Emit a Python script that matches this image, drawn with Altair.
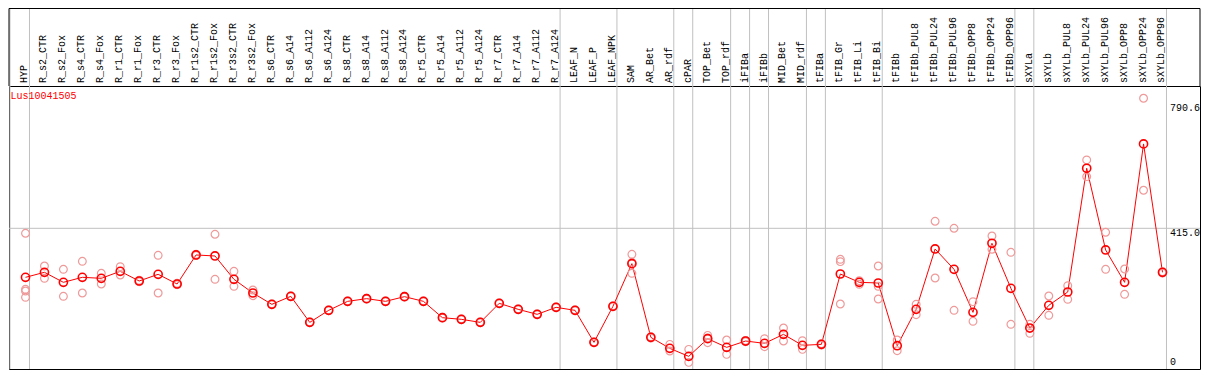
import altair as alt
import pandas as pd

gene = "Lus10041505"

categories = [
    "HYP", "R_s2_CTR", "R_s2_Fox", "R_s4_CTR", "R_s4_Fox", "R_r1_CTR", "R_r1_Fox",
    "R_r3_CTR", "R_r3_Fox", "R_r1s2_CTR", "R_r1s2_Fox", "R_r3s2_CTR", "R_r3s2_Fox",
    "R_s6_CTR", "R_s6_A14", "R_s6_A112", "R_s6_A124", "R_s8_CTR", "R_s8_A14",
    "R_s8_A112", "R_s8_A124", "R_r5_CTR", "R_r5_A14", "R_r5_A112", "R_r5_A124",
    "R_r7_CTR", "R_r7_A14", "R_r7_A112", "R_r7_A124", "LEAF_N", "LEAF_P", "LEAF_NPK",
    "SAM", "AR_Bet", "AR_rdf", "cPAR", "TOP_Bet", "TOP_rdf", "iFIBa", "iFIBb",
    "MID_Bet", "MID_rdf", "tFIBa", "tFIB_Gr", "tFIB_Li", "tFIB_Bi", "tFIBb",
    "tFIBb_PUL8", "tFIBb_PUL24", "tFIBb_PUL96", "tFIBb_OPP8", "tFIBb_OPP24",
    "tFIBb_OPP96", "sXYLa", "sXYLb", "sXYLb_PUL8", "sXYLb_PUL24", "sXYLb_PUL96",
    "sXYLb_OPP8", "sXYLb_OPP24", "sXYLb_OPP96",
]

means = [
    268, 283, 253, 268, 265, 286, 257, 277, 248, 335, 332, 262, 221,
    187, 211, 133, 169, 196, 204, 196, 210, 196, 147, 142, 133,
    190, 172, 157, 178, 169, 73, 181,
    309, 88, 55, 31, 84, 58, 77, 70, 97, 64, 67,
    278, 253, 251, 63, 172, 353, 292, 163, 370, 235,
    116, 184, 224, 595, 350, 253, 668, 283,
]

replicates = [
    [400, 232, 227, 208], [302, 265], [292, 211], [316, 221], [280, 248],
    [300, 275], [255, 259], [334, 221], [250, 246], [337, 333], [397, 262],
    [286, 241], [230, 213], [188, 186], [212, 210], [134, 132], [170, 168],
    [197, 195], [205, 203], [197, 195], [211, 209], [197, 195], [148, 146],
    [143, 141], [134, 132], [191, 189], [173, 171], [158, 156], [179, 177],
    [170, 168], [74, 72], [182, 180], [337, 313, 280], [90, 86], [67, 47],
    [52, 13], [94, 86, 72], [80, 37], [79, 75], [84, 60], [116, 77], [78, 52],
    [69, 65], [322, 315, 188], [258, 247], [302, 241, 203], [80, 48],
    [187, 156], [436, 266], [415, 169], [195, 136], [392, 352], [343, 127],
    [127, 100], [212, 154], [243, 202], [620, 570], [403, 292], [293, 217],
    [805, 529], [285, 281],
]

# groups are separated after these categories (plus one line before the first)
separator_after = [
    "HYP", "R_r7_A124", "LEAF_NPK", "AR_rdf", "cPAR", "TOP_rdf", "iFIBa",
    "iFIBb", "MID_rdf", "tFIBa", "tFIB_Bi", "tFIBb_OPP96", "sXYLa", "sXYLb_OPP96",
]

tick_values = [0, 415.0, 790.6]
tick_labels = ["0", "415.0", "790.6"]
grid_value = [415.0]

# ---------------------------------------------------------------- tables
mean_df = pd.DataFrame({"idx": list(range(len(categories))),
                        "cat": categories, "value": means})
rep_rows = []
for i, reps in enumerate(replicates):
    for v in reps:
        rep_rows.append({"idx": i, "cat": categories[i], "value": v})
rep_df = pd.DataFrame(rep_rows)
sep_pos = [-0.82] + [categories.index(c) + 0.21 for c in separator_after]
sep_df = pd.DataFrame({"pos": sep_pos})
grid_df = pd.DataFrame({"value": grid_value})
tick_df = pd.DataFrame({"value": tick_values, "label": tick_labels})
one = pd.DataFrame({"t": [gene]})

W, H = 1191, 283
HEADER = 78
MONO = "Liberation Mono"

xs = alt.Scale(domain=[-0.8707, 61.979], nice=False, zero=False)
ys = alt.Scale(domain=[-6.9, 841.7], nice=False, zero=False)

X_IDX = alt.X("idx:Q", scale=xs, axis=None)
Y_VAL = alt.Y("value:Q", scale=ys, axis=None)

seps = alt.Chart(sep_df).mark_rule(color="#c0c0c0", strokeWidth=1).encode(
    x=alt.X("pos:Q", scale=xs, axis=None),
    y=alt.value(-HEADER), y2=alt.value(H),
)
grid = alt.Chart(grid_df).mark_rule(color="#c0c0c0", strokeWidth=1).encode(
    y=Y_VAL, x=alt.value(0), x2=alt.value(W),
)
line = alt.Chart(mean_df).mark_line(color="#ff0000", strokeWidth=1).encode(
    x=X_IDX, y=Y_VAL,
)
reps = alt.Chart(rep_df).mark_point(shape="circle", filled=False, color="#ef9a9a",
                                    strokeWidth=1.2, size=60, opacity=1).encode(
    x=X_IDX, y=Y_VAL,
)
pts = alt.Chart(mean_df).mark_point(shape="circle", filled=False, color="#ff0000",
                                    strokeWidth=1.6, size=66, opacity=1).encode(
    x=X_IDX, y=Y_VAL,
)
# category labels in the header band (rotated)
cat_labels = alt.Chart(mean_df).mark_text(
    font=MONO, fontSize=10, color="black", angle=270,
    align="left", baseline="middle", dy=-1,
).encode(x=X_IDX, y=alt.value(-3), text="cat:N")

# value labels inside the right edge
val_top = alt.Chart(tick_df).transform_filter("datum.value > 0").mark_text(
    font=MONO, fontSize=10, color="black", align="left", baseline="top",
).encode(y=Y_VAL, x=alt.value(1161), text="label:N")
val_zero = alt.Chart(tick_df).transform_filter("datum.value == 0").mark_text(
    font=MONO, fontSize=10, color="black", align="left", baseline="bottom",
).encode(y=Y_VAL, x=alt.value(1161), text="label:N")

title = alt.Chart(one).mark_text(font=MONO, fontSize=10, color="#ff0000",
                                 align="left", baseline="top").encode(
    text="t:N", x=alt.value(1.5), y=alt.value(5),
)
frame_l = alt.Chart(one).mark_rule(color="black", strokeWidth=1).encode(
    x=alt.value(0), y=alt.value(-HEADER + 0.5), y2=alt.value(0))
frame_r = alt.Chart(one).mark_rule(color="black", strokeWidth=1).encode(
    x=alt.value(W), y=alt.value(-HEADER + 0.5), y2=alt.value(0))
frame_t = alt.Chart(one).mark_rule(color="black", strokeWidth=1).encode(
    x=alt.value(0), x2=alt.value(W), y=alt.value(-HEADER + 0.5))

chart = alt.layer(
    seps, grid, line, reps, pts, cat_labels, val_top, val_zero, title,
    frame_l, frame_r, frame_t,
).properties(
    width=W, height=H,
    autosize=alt.AutoSizeParams(type="none"),
    padding={"left": 1, "top": HEADER, "right": 1, "bottom": 1},
).configure_view(stroke="black", strokeWidth=1)

chart.save("out.html", embed_options={"renderer": "svg", "actions": False})
